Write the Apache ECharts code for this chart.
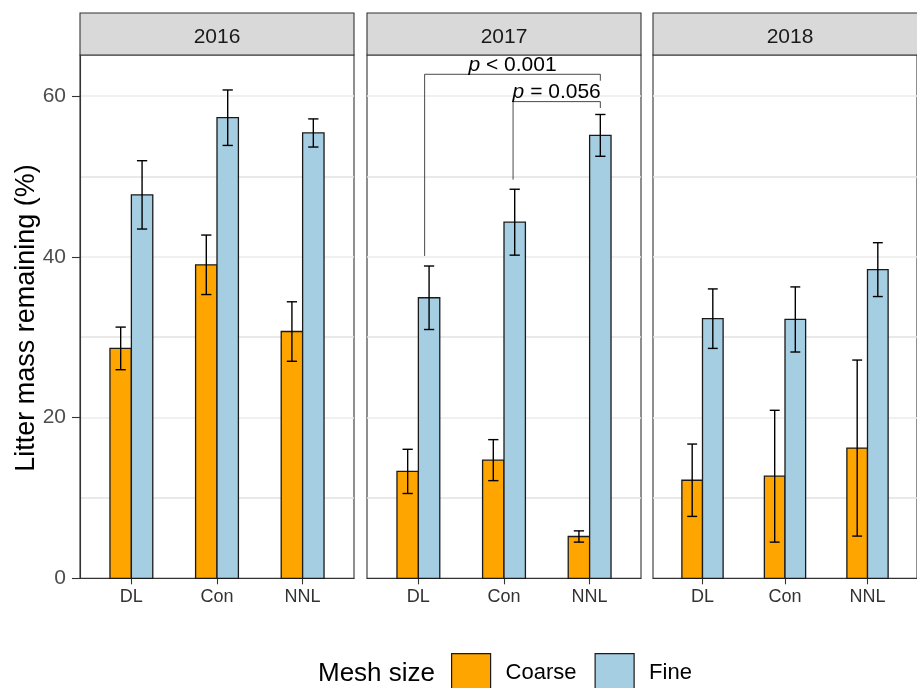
<!DOCTYPE html>
<html>
<head>
<meta charset="utf-8">
<script src="https://cdn.jsdelivr.net/npm/echarts@6/dist/echarts.min.js"></script>
<style>
  html, body { margin: 0; padding: 0; background: #ffffff; }
  #chart { width: 917px; height: 688px; }
</style>
</head>
<body>
<div id="chart"></div>
<script>
// Sites on the x axis of each panel, one panel per year
const sites = ['DL', 'Con', 'NNL'];
const years = ['2016', '2017', '2018'];
const meshSizes = ['Coarse', 'Fine'];

// Mean litter mass remaining (%) and error-bar half widths, per site
const coarse2016 = [28.6, 39.0, 30.7];
const coarseErr2016 = [2.65, 3.7, 3.7];
const fine2016 = [47.7, 57.3, 55.4];
const fineErr2016 = [4.25, 3.45, 1.75];

const coarse2017 = [13.3, 14.7, 5.2];
const coarseErr2017 = [2.75, 2.55, 0.7];
const fine2017 = [34.9, 44.3, 55.1];
const fineErr2017 = [3.95, 4.1, 2.6];

const coarse2018 = [12.2, 12.7, 16.2];
const coarseErr2018 = [4.5, 8.2, 10.95];
const fine2018 = [32.3, 32.2, 38.4];
const fineErr2018 = [3.7, 4.05, 3.35];

const yTicks = [0, 20, 40, 60];

// Pairwise comparisons shown in the 2017 panel
const sigFrom = [1.073, 2.106];
const sigTo = [3.125, 3.125];
const sigY = [62.7, 59.3];
const sigFromEnd = [40.1, 49.6];
const sigToEnd = [61.9, 58.5];
const sigOp = ['<', '='];
const sigP = ['0.001', '0.056'];

// ---- layout and style ----
const FONT = 'Liberation Sans, Arial, Helvetica, sans-serif';
const PANEL_LEFT = [80, 367, 653];
const PANEL_W = 274;
const PANEL_TOP = 55;
const PANEL_H = 523.3;
const STRIP_TOP = 13;
const Y_MAX = 65.1;
const BAR_W = 0.25;
const CAP_W = 0.12;
const COLORS = { Coarse: '#FFA500', Fine: '#A6CEE3' };

const coarseByYear = [coarse2016, coarse2017, coarse2018];
const coarseErrByYear = [coarseErr2016, coarseErr2017, coarseErr2018];
const fineByYear = [fine2016, fine2017, fine2018];
const fineErrByYear = [fineErr2016, fineErr2017, fineErr2018];

function rows(means, errs) {
  return sites.map((s, i) => [i + 1, means[i], errs[i]]);
}

function barRenderer(offset) {
  return function (params, api) {
    const x = api.value(0) + offset;
    const v = api.value(1);
    const p0 = api.coord([x - BAR_W / 2, 0]);
    const p1 = api.coord([x + BAR_W / 2, v]);
    return {
      type: 'rect',
      shape: { x: p0[0], y: p1[1], width: p1[0] - p0[0], height: p0[1] - p1[1] },
      style: { fill: api.visual('color'), stroke: '#1a1a1a', lineWidth: 1.3 }
    };
  };
}

function errRenderer(offset) {
  return function (params, api) {
    const x = api.value(0) + offset;
    const v = api.value(1);
    const e = api.value(2);
    const hi = api.coord([x, v + e]);
    const lo = api.coord([x, v - e]);
    const l = api.coord([x - CAP_W / 2, v])[0];
    const r = api.coord([x + CAP_W / 2, v])[0];
    const st = { stroke: '#000000', lineWidth: 1.4 };
    return {
      type: 'group',
      children: [
        { type: 'line', shape: { x1: hi[0], y1: hi[1], x2: lo[0], y2: lo[1] }, style: st },
        { type: 'line', shape: { x1: l, y1: hi[1], x2: r, y2: hi[1] }, style: st },
        { type: 'line', shape: { x1: l, y1: lo[1], x2: r, y2: lo[1] }, style: st }
      ]
    };
  };
}

function sigRenderer(params, api) {
  const x1 = api.value(0), x2 = api.value(1), y = api.value(2);
  const yl = api.value(3), yr = api.value(4);
  const a = api.coord([x1, yl]);
  const b = api.coord([x1, y]);
  const c = api.coord([x2, y]);
  const d = api.coord([x2, yr]);
  const i = params.dataIndex;
  return {
    type: 'group',
    children: [
      {
        type: 'polyline',
        shape: { points: [a, b, c, d] },
        style: { stroke: '#333333', lineWidth: 0.9, fill: null }
      },
      {
        type: 'text',
        x: (b[0] + c[0]) / 2,
        y: b[1] - 9,
        style: {
          text: '{it|p} ' + sigOp[i] + ' ' + sigP[i],
          fill: '#000000',
          font: '21px ' + FONT,
          align: 'center',
          verticalAlign: 'middle',
          textAlign: 'center',
          textVerticalAlign: 'middle',
          rich: { it: { fontStyle: 'italic', fontSize: 21, fontFamily: FONT, fill: '#000000' } }
        }
      }
    ]
  };
}

const grids = [], xAxes = [], yAxes = [], series = [], graphics = [];

years.forEach((yr, p) => {
  grids.push({
    left: PANEL_LEFT[p], top: PANEL_TOP, width: PANEL_W, height: PANEL_H,
    show: true, backgroundColor: '#ffffff', borderColor: '#333333', borderWidth: 1.1
  });
  xAxes.push({
    gridIndex: p, type: 'value', min: 0.4, max: 3.6,
    splitLine: { show: false },
    axisLine: { show: true, onZero: false, lineStyle: { color: '#333333', width: 1.1 } },
    axisTick: { show: true, customValues: [1, 2, 3], length: 6, lineStyle: { color: '#333333', width: 1.1 } },
    axisLabel: {
      customValues: [1, 2, 3],
      formatter: v => sites[Math.round(v) - 1],
      fontSize: 18, fontFamily: FONT, color: '#333333', margin: 10
    }
  });
  // value axis carrying ticks and labels (axis index 2p)
  yAxes.push({
    gridIndex: p, type: 'value', min: 0, max: Y_MAX, interval: 20,
    axisLine: { show: p === 0, lineStyle: { color: '#333333', width: 1.1 } },
    axisTick: { show: p === 0, customValues: yTicks, length: 8, lineStyle: { color: '#333333', width: 1.1 } },
    axisLabel: {
      show: p === 0, customValues: yTicks,
      fontSize: 21, fontFamily: FONT, color: '#4d4d4d', margin: 14
    },
    splitLine: { show: false }
  });
  // companion axis that only draws the major and minor grid lines (axis index 2p+1)
  yAxes.push({
    gridIndex: p, type: 'value', min: 0, max: Y_MAX, interval: 10, position: 'left',
    axisLine: { show: false }, axisTick: { show: false }, axisLabel: { show: false },
    splitLine: {
      show: true, showMaxLine: false, showMinLine: false,
      lineStyle: { color: ['#e2e2e2', '#ebebeb'], width: 1.5 }
    }
  });

  const yi = 2 * p;
  // bars: coarse mesh left of each site, fine mesh right
  series.push({
    name: 'Coarse', type: 'custom', xAxisIndex: p, yAxisIndex: yi,
    itemStyle: { color: COLORS.Coarse }, z: 2,
    data: rows(coarseByYear[p], coarseErrByYear[p]),
    encode: { x: 0, y: 1 }, renderItem: barRenderer(-BAR_W / 2)
  });
  series.push({
    name: 'Fine', type: 'custom', xAxisIndex: p, yAxisIndex: yi,
    itemStyle: { color: COLORS.Fine }, z: 2,
    data: rows(fineByYear[p], fineErrByYear[p]),
    encode: { x: 0, y: 1 }, renderItem: barRenderer(BAR_W / 2)
  });
  series.push({
    type: 'custom', xAxisIndex: p, yAxisIndex: yi, z: 3, silent: true,
    data: rows(coarseByYear[p], coarseErrByYear[p]),
    encode: { x: 0, y: 1 }, renderItem: errRenderer(-BAR_W / 2)
  });
  series.push({
    type: 'custom', xAxisIndex: p, yAxisIndex: yi, z: 3, silent: true,
    data: rows(fineByYear[p], fineErrByYear[p]),
    encode: { x: 0, y: 1 }, renderItem: errRenderer(BAR_W / 2)
  });

  // facet strip
  graphics.push({
    type: 'rect', z: 10,
    shape: { x: PANEL_LEFT[p], y: STRIP_TOP, width: PANEL_W, height: PANEL_TOP - STRIP_TOP },
    style: { fill: '#d9d9d9', stroke: '#333333', lineWidth: 1.1 }
  });
  graphics.push({
    type: 'text', z: 11,
    x: PANEL_LEFT[p] + PANEL_W / 2, y: 37,
    style: {
      text: yr, fill: '#1a1a1a', font: '21px ' + FONT,
      align: 'center', verticalAlign: 'middle', textAlign: 'center', textVerticalAlign: 'middle'
    }
  });
});

// significance brackets in the 2017 panel
series.push({
  type: 'custom', xAxisIndex: 1, yAxisIndex: 2, z: 4, silent: true,
  data: sigFrom.map((f, i) => [f, sigTo[i], sigY[i], sigFromEnd[i], sigToEnd[i]]),
  encode: { x: [0, 1], y: 2 },
  renderItem: sigRenderer
});

// y axis title
graphics.push({
  type: 'text', z: 11, x: 27, y: 318, rotation: Math.PI / 2,
  style: {
    text: 'Litter mass remaining (%)', fill: '#000000', font: '27px ' + FONT,
    align: 'center', verticalAlign: 'middle', textAlign: 'center', textVerticalAlign: 'middle'
  }
});
// legend title
graphics.push({
  type: 'text', z: 11, x: 318, y: 674,
  style: {
    text: 'Mesh size', fill: '#000000', font: '26px ' + FONT,
    align: 'left', verticalAlign: 'middle', textAlign: 'left', textVerticalAlign: 'middle'
  }
});

const chart = echarts.init(document.getElementById('chart'), null, { renderer: 'canvas' });
chart.setOption({
  animation: false,
  backgroundColor: '#ffffff',
  grid: grids,
  xAxis: xAxes,
  yAxis: yAxes,
  legend: {
    left: 451, top: 653, orient: 'horizontal', padding: 0,
    itemWidth: 39, itemHeight: 39, itemGap: 18, selectedMode: false,
    textStyle: { fontSize: 22, fontFamily: FONT, color: '#000000', padding: [6, 0, 0, 10] },
    data: meshSizes.map(m => ({
      name: m, icon: 'rect',
      itemStyle: { color: COLORS[m], borderColor: '#1a1a1a', borderWidth: 1.2 }
    }))
  },
  graphic: graphics,
  series: series
});
</script>
</body>
</html>
